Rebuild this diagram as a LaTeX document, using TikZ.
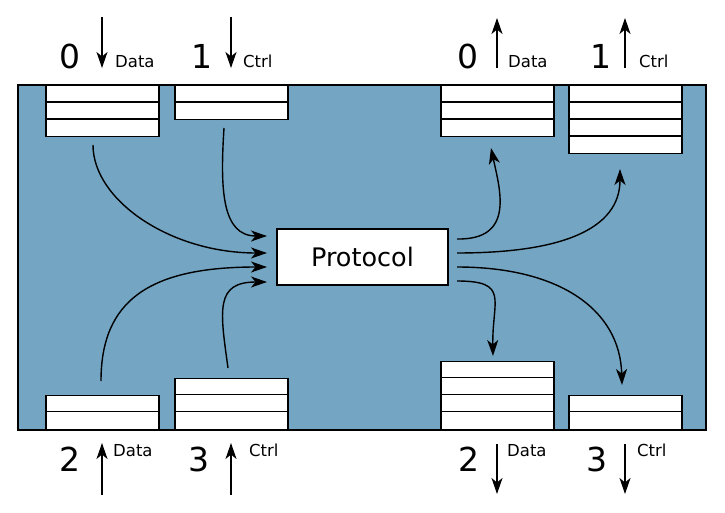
\documentclass[tikz,border=0pt]{standalone}
\usepackage{fontspec}
\setmainfont{DejaVu Sans}
\usetikzlibrary{arrows.meta}
\definecolor{bgblue}{RGB}{116,165,194}
\newcommand\qlines[2]{\foreach \i in {1,...,#2}{\draw[qline] ([yshift=-\i*17pt]#1.north west) -- ([yshift=-\i*17pt]#1.north east);}}
\begin{document}
\begin{tikzpicture}[x=1pt,y=-1pt,
  board/.style={draw=black, fill=bgblue, line width=2pt, minimum width=688pt, minimum height=345pt, inner sep=0pt},
  queue/.style={draw=black, fill=white, line width=1.5pt, minimum width=113pt, inner sep=0pt},
  qline/.style={draw=black, line width=1.5pt},
  proto/.style={draw=black, fill=white, line width=1.6pt, minimum width=171pt, minimum height=56pt, inner sep=0pt, font=\fontsize{25.5}{25.5}\selectfont},
  num/.style={inner sep=0pt, anchor=base, font=\fontsize{33}{33}\selectfont},
  lbl/.style={inner sep=0pt, anchor=base west, font=\fontsize{16.5}{16.5}\selectfont},
  arr/.style={draw=black, line width=1.4pt, -{Stealth[length=16pt,width=11pt,inset=4.5pt]}}
]
\useasboundingbox (0,0) rectangle (725,513);
\node[board] (B) at (362,257.5) {};

% queues
\node[queue, anchor=north west, minimum height=51pt] (qi0) at (45,85) {};
\node[queue, anchor=north west, minimum height=34pt] (qi1) at (174,85) {};
\node[queue, anchor=south west, minimum height=34pt] (qi2) at (45,430) {};
\node[queue, anchor=south west, minimum height=51pt] (qi3) at (174,430) {};
\node[queue, anchor=north west, minimum height=51pt] (qo0) at (440,85) {};
\node[queue, anchor=north west, minimum height=68pt] (qo1) at (568,85) {};
\node[queue, anchor=south west, minimum height=68pt] (qo2) at (440,430) {};
\node[queue, anchor=south west, minimum height=34pt] (qo3) at (568,430) {};
\qlines{qi0}{2}
\qlines{qi1}{1}
\qlines{qi2}{1}
\qlines{qi3}{2}
\qlines{qo0}{2}
\qlines{qo1}{3}
\qlines{qo2}{3}
\qlines{qo3}{1}

% protocol
\node[proto] (P) at (362.5,257) {Protocol};

% top labels
\node[num] (ni0) at (70,69) {0};
\node[lbl] (li0) at (115,68) {Data};
\node[num] (ni1) at (202,69) {1};
\node[lbl] (li1) at (243,68) {Ctrl};
\node[num] (no0) at (468,69) {0};
\node[lbl] (lo0) at (508,68) {Data};
\node[num] (no1) at (601,69) {1};
\node[lbl] (lo1) at (639,68) {Ctrl};
% bottom labels
\node[num] (ni2) at (70,471) {2};
\node[lbl] (li2) at (113,456) {Data};
\node[num] (ni3) at (199,471) {3};
\node[lbl] (li3) at (249,456) {Ctrl};
\node[num] (no2) at (469,471) {2};
\node[lbl] (lo2) at (507,456) {Data};
\node[num] (no3) at (597,471) {3};
\node[lbl] (lo3) at (637,456) {Ctrl};

% port arrows
\coordinate (pi0a) at (102,17);  \coordinate (pi0b) at (102,68);
\coordinate (pi1a) at (231,17);  \coordinate (pi1b) at (231,68);
\coordinate (po0a) at (497,68);  \coordinate (po0b) at (497,18);
\coordinate (po1a) at (625,68);  \coordinate (po1b) at (625,18);
\coordinate (pi2a) at (102,495); \coordinate (pi2b) at (102,443);
\coordinate (pi3a) at (231,495); \coordinate (pi3b) at (231,443);
\coordinate (po2a) at (497,444); \coordinate (po2b) at (497,494);
\coordinate (po3a) at (625,444); \coordinate (po3b) at (625,494);
\foreach \p in {pi0,pi1,po0,po1,pi2,pi3,po2,po3}{\draw[arr] (\p a) -- (\p b);}

% input curves
\coordinate (s0) at (93,145);   \coordinate (e0) at (267,253);
\coordinate (s1) at (224,128);  \coordinate (e1) at (267,236);
\coordinate (s2) at (101,381);  \coordinate (e2) at (267,267);
\coordinate (s3) at (228,368);  \coordinate (e3) at (267,282);
\draw[arr] (s0) .. controls (93,200) and (170,253) .. (e0);
\draw[arr] (s1) .. controls (220,190) and (222,236) .. (e1);
\draw[arr] (s2) .. controls (101,300) and (150,267) .. (e2);
\draw[arr] (s3) .. controls (220,310) and (215,282) .. (e3);

% output curves
\coordinate (t0) at (457,239);  \coordinate (f0) at (491,148);
\coordinate (t1) at (457,253);  \coordinate (f1) at (620,169);
\coordinate (t3) at (457,267);  \coordinate (f3) at (622,385);
\coordinate (t2) at (457,281);  \coordinate (f2) at (493,356);
\draw[arr] (t0) .. controls (515,240) and (500,190) .. (f0);
\draw[arr] (t1) .. controls (560,253) and (620,230) .. (f1);
\draw[arr] (t3) .. controls (560,267) and (620,310) .. (f3);
\draw[arr] (t2) .. controls (510,281) and (492,300) .. (f2);
\end{tikzpicture}
\end{document}
